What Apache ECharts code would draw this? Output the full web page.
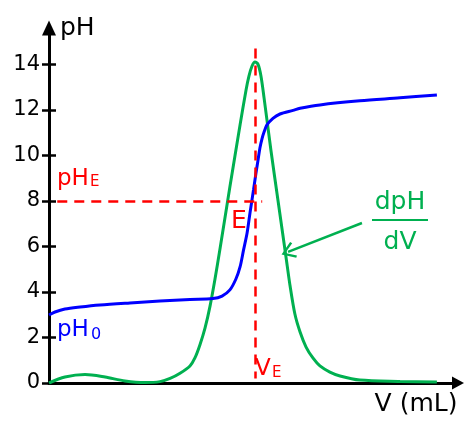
<!DOCTYPE html>
<html>
<head>
<meta charset="utf-8">
<script src="https://cdn.jsdelivr.net/npm/echarts@6/dist/echarts.min.js"></script>
<style>html,body{margin:0;padding:0;background:#fff}#c{width:465px;height:421px}</style>
</head>
<body>
<div id="c"></div>
<script>
// Volume (mL) and pH for the titration curve
const phV = [0, 0.29, 0.77, 1.5, 2.46, 3.91, 5.36, 6.81, 7.92, 8.36, 8.74, 9.03, 9.23, 9.4, 9.57, 9.71, 9.88, 10.0, 10.1, 10.19, 10.29, 10.39, 10.53, 10.82, 11.16, 11.79, 12.13, 13.09, 15.02, 16.96, 18.74];
const phY = [2.99, 3.12, 3.25, 3.34, 3.43, 3.52, 3.6, 3.67, 3.71, 3.82, 4.09, 4.57, 5.1, 5.85, 6.59, 7.47, 8.48, 9.23, 9.8, 10.33, 10.73, 11.03, 11.34, 11.63, 11.82, 11.98, 12.07, 12.22, 12.4, 12.53, 12.66];
// Volume (mL) and dpH/dV for the derivative curve
const dV = [0, 0.77, 1.74, 2.71, 3.67, 4.64, 5.36, 5.85, 6.33, 6.81, 7.05, 7.29, 7.54, 7.78, 8.02, 8.26, 8.74, 9.23, 9.52, 9.66, 9.81, 9.95, 10.1, 10.24, 10.39, 10.72, 11.06, 11.45, 11.64, 11.88, 12.13, 12.42, 12.75, 13.09, 13.57, 14.06, 15.02, 16.96, 18.74];
const dY = [0, 0.26, 0.37, 0.26, 0.09, 0.02, 0.06, 0.2, 0.43, 0.75, 1.1, 1.67, 2.42, 3.38, 4.57, 5.89, 8.62, 11.34, 12.88, 13.49, 13.93, 14.11, 14.0, 13.49, 12.53, 10.24, 8.04, 5.54, 4.31, 3.03, 2.24, 1.58, 1.1, 0.75, 0.48, 0.31, 0.13, 0.07, 0.04];
// Equivalence point
const VE = 9.95;
const pHE = 8;
// y tick labels
const yTicks = [0, 2, 4, 6, 8, 10, 12, 14];

const FONT = '"DejaVu Sans", sans-serif';
const RED = '#ff0000', BLUE = '#0000ff', GREEN = '#00b050';

const chart = echarts.init(document.getElementById('c'), null, {renderer: 'canvas'});
const zip = (a, b) => a.map((v, i) => [v, b[i]]);

chart.setOption({
  animation: false,
  grid: {left: 49, right: 7, top: 28, bottom: 38},
  xAxis: {
    type: 'value', min: 0, max: 19.76,
    axisLine: {show: true, onZero: false, lineStyle: {color: '#000', width: 3}, symbol: ['none', 'triangle'], symbolSize: [13, 12]},
    axisTick: {show: false}, axisLabel: {show: false}, splitLine: {show: false}
  },
  yAxis: [{
    type: 'value', min: 0, max: 15.6, position: 'left',
    axisLine: {show: true, onZero: false, lineStyle: {color: '#000', width: 3}, symbol: ['none', 'triangle'], symbolSize: [14, 15]},
    axisTick: {show: true, length: 7, customValues: yTicks, lineStyle: {color: '#000', width: 2.5}},
    axisLabel: {show: true, customValues: yTicks, margin: 9, fontSize: 21, color: '#000', fontFamily: FONT},
    splitLine: {show: false}
  }, {
    type: 'value', min: 0, max: 15.6, position: 'left',
    axisLine: {show: false},
    axisTick: {show: true, inside: true, length: 7, customValues: yTicks, lineStyle: {color: '#000', width: 2.5}},
    axisLabel: {show: false}, splitLine: {show: false}
  }],
  series: [{
    type: 'line', name: 'pH', data: zip(phV, phY), showSymbol: false, smooth: 0.3,
    lineStyle: {color: BLUE, width: 3}, z: 3,
    markLine: {
      silent: true, symbol: ['none', 'none'], label: {show: false},
      lineStyle: {color: RED, width: 2.5, type: [10, 7]},
      data: [
        [{coord: [0.4, pHE]}, {coord: [VE + 0.35, pHE]}],
        [{coord: [VE, 14.7]}, {coord: [VE, 0.2]}]
      ]
    }
  }, {
    type: 'line', name: 'dpH/dV', data: zip(dV, dY), showSymbol: false, smooth: 0.3,
    lineStyle: {color: GREEN, width: 3}, z: 2,
    markLine: {
      silent: true, symbol: ['none', 'path://M8.5,0 L17,12.5 L15,14 L8.5,4 L2,14 L0,12.5 Z'], symbolSize: [17, 14],
      label: {show: false}, lineStyle: {color: GREEN, width: 2.5, type: 'solid'},
      data: [[{coord: [15.12, 7.03]}, {coord: [11.55, 5.76]}]]
    }
  }],
  graphic: [
    {type: 'text', x: 60, y: 16, style: {text: 'pH', font: '25px ' + FONT, fill: '#000'}},
    {type: 'text', x: 416, y: 392, style: {text: 'V (mL)', font: '25px ' + FONT, fill: '#000', align: 'center'}},
    {type: 'text', x: 57, y: 167.5, style: {text: 'pH', font: '23px ' + FONT, fill: RED}},
    {type: 'text', x: 90, y: 175, style: {text: 'E', font: '15px ' + FONT, fill: RED}},
    {type: 'text', x: 57, y: 318.5, style: {text: 'pH', font: '23px ' + FONT, fill: BLUE}},
    {type: 'text', x: 91, y: 326.5, style: {text: '0', font: '16px ' + FONT, fill: BLUE}},
    {type: 'text', x: 231, y: 209, style: {text: 'E', font: '25px ' + FONT, fill: RED}},
    {type: 'text', x: 255, y: 357.5, style: {text: 'V', font: '23px ' + FONT, fill: RED}},
    {type: 'text', x: 272, y: 365.3, style: {text: 'E', font: '15px ' + FONT, fill: RED}},
    {type: 'text', x: 400, y: 190, style: {text: 'dpH', font: '25px ' + FONT, fill: GREEN, align: 'center'}},
    {type: 'line', shape: {x1: 372, y1: 220, x2: 428, y2: 220}, style: {stroke: GREEN, lineWidth: 2}},
    {type: 'text', x: 400, y: 230, style: {text: 'dV', font: '25px ' + FONT, fill: GREEN, align: 'center'}}
  ]
});
</script>
</body>
</html>
